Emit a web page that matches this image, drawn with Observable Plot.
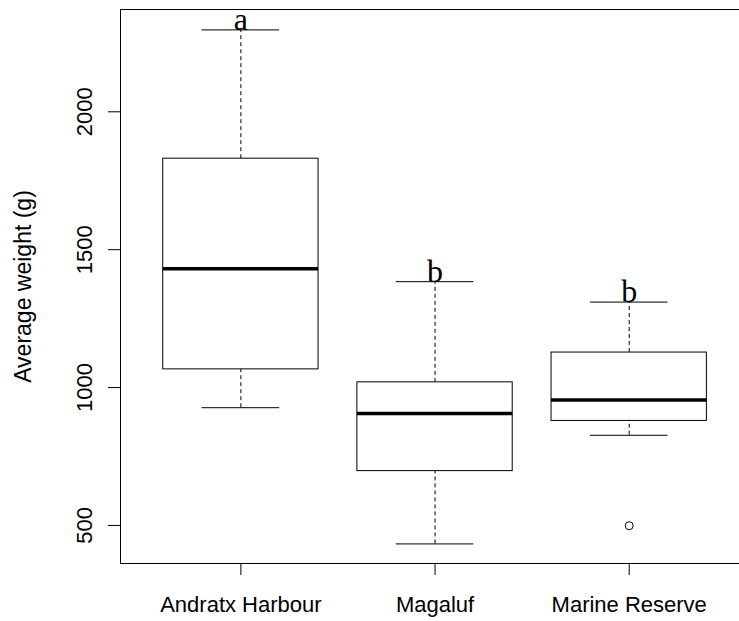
<!DOCTYPE html>
<html>
<head>
<meta charset="utf-8">
<script src="https://cdn.jsdelivr.net/npm/d3@7"></script>
<script src="https://cdn.jsdelivr.net/npm/@observablehq/plot@0.6"></script>
<style>
  html, body { margin: 0; padding: 0; background: #fff; }
</style>
</head>
<body>
<div id="chart"></div>
<script>
// ---- data ----
const categories = ["Andratx Harbour", "Magaluf", "Marine Reserve"];
const lowerWhisker = [927, 433, 827];
const q1 = [1066, 697, 879];
const median = [1431, 906, 955];
const q3 = [1830, 1019, 1127];
const upperWhisker = [2297, 1384, 1310];
const outlierSite = ["Marine Reserve"];
const outlierValue = [499];
const groupLetters = ["a", "b", "b"];
const yTicks = [500, 1000, 1500, 2000];
const yLabel = "Average weight (g)";

// ---- table built from arrays ----
const stats = categories.map((c, i) => ({
  site: c, pos: i + 1,
  lo: lowerWhisker[i], q1: q1[i], med: median[i], q3: q3[i], hi: upperWhisker[i],
  letter: groupLetters[i]
}));
const outliers = outlierSite.map((s, i) => ({pos: categories.indexOf(s) + 1, value: outlierValue[i]}));

const xDomain = [0.38, 3.568];
const yDomain = [362, 2371];
const boxHalf = 0.4, capHalf = 0.2;

const plot = Plot.plot({
  width: 739,
  height: 621,
  marginLeft: 120,
  marginRight: 0,
  marginTop: 9,
  marginBottom: 58,
  style: {fontFamily: "'Liberation Sans', Arial, sans-serif", color: "#000", background: "#fff"},
  x: {type: "linear", domain: xDomain, axis: null},
  y: {domain: yDomain, axis: null},
  marks: [
    // frame (left, top, bottom)
    Plot.ruleX([xDomain[0]], {stroke: "#000", strokeWidth: 1}),
    Plot.ruleY([yDomain[0], yDomain[1]], {stroke: "#000", strokeWidth: 1}),
    // dashed whiskers
    Plot.ruleX(stats, {x: "pos", y1: "q3", y2: "hi", stroke: "#000", strokeDasharray: "4,3"}),
    Plot.ruleX(stats, {x: "pos", y1: "lo", y2: "q1", stroke: "#000", strokeDasharray: "4,3"}),
    // staples
    Plot.ruleY(stats, {y: "hi", x1: d => d.pos - capHalf, x2: d => d.pos + capHalf, stroke: "#000"}),
    Plot.ruleY(stats, {y: "lo", x1: d => d.pos - capHalf, x2: d => d.pos + capHalf, stroke: "#000"}),
    // boxes
    Plot.rect(stats, {x1: d => d.pos - boxHalf, x2: d => d.pos + boxHalf, y1: "q1", y2: "q3", fill: "#fff", stroke: "#000", strokeWidth: 1}),
    // medians
    Plot.ruleY(stats, {y: "med", x1: d => d.pos - boxHalf, x2: d => d.pos + boxHalf, stroke: "#000", strokeWidth: 3.5}),
    // outliers
    Plot.dot(outliers, {x: "pos", y: "value", r: 4, stroke: "#000", fill: "#fff", strokeWidth: 1}),
    // significance letters
    Plot.text(stats, {x: "pos", y: "hi", text: "letter", lineAnchor: "bottom", fontFamily: "'Liberation Serif', 'Times New Roman', serif", fontSize: 32, fill: "#000"}),
    // axes
    Plot.axisY(yTicks, {anchor: "left", label: null, tickSize: 12, tickRotate: -90, tickPadding: 17, fontSize: 22, tickFormat: d => String(d), stroke: "#000", fill: "#000"}),
    Plot.axisX([1, 2, 3], {anchor: "bottom", label: null, tickSize: 12, tickPadding: 21, fontSize: 22, tickFormat: d => categories[d - 1], stroke: "#000", fill: "#000"}),
    // y label
    Plot.text([yLabel], {frameAnchor: "left", dx: -90, rotate: -90, textAnchor: "middle", lineAnchor: "bottom", fontSize: 23, fill: "#000"})
  ]
});
document.getElementById("chart").appendChild(plot);
</script>
</body>
</html>
